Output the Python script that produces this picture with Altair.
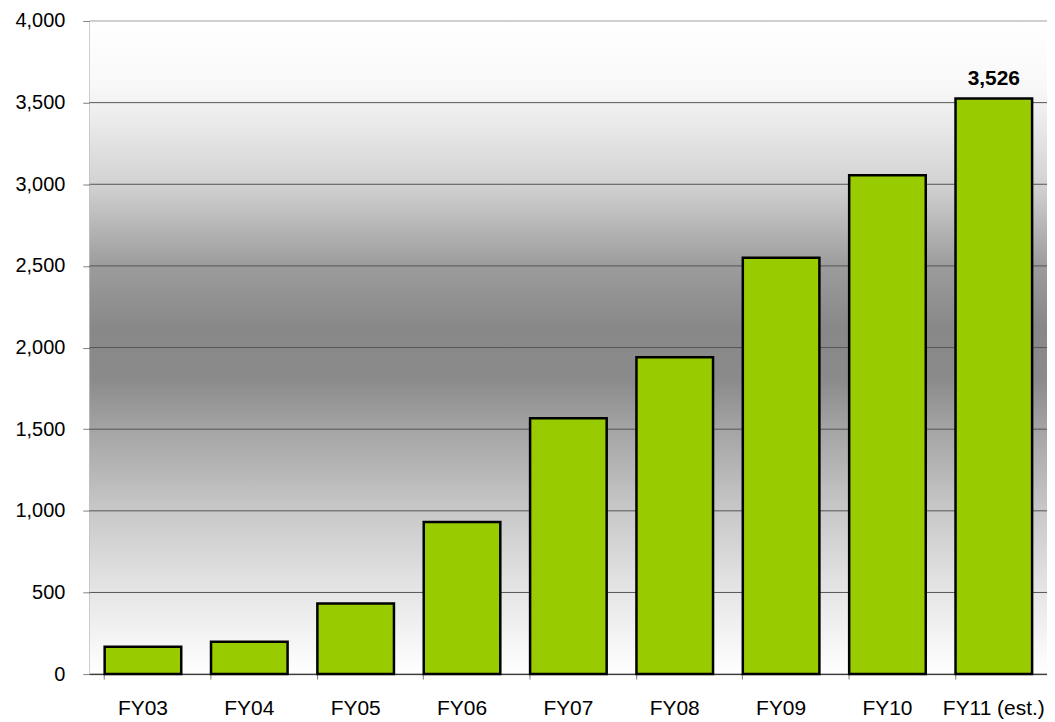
import altair as alt
import pandas as pd

categories = ["FY03", "FY04", "FY05", "FY06", "FY07", "FY08", "FY09", "FY10", "FY11 (est.)"]
values = [167, 198, 433, 932, 1567, 1940, 2550, 3055, 3526]
y_ticks = [0, 500, 1000, 1500, 2000, 2500, 3000, 3500, 4000]

W, H = 960, 655
FONT = "Liberation Sans"
FS = 21

df = pd.DataFrame({"cat": categories, "val": values})
grid_df = pd.DataFrame({"v": y_ticks})
bg_df = pd.DataFrame({"a": [0]})

x_enc = alt.X("cat:N", sort=categories, title=None,
              scale=alt.Scale(paddingInner=0.28, paddingOuter=0.14),
              axis=alt.Axis(labelAngle=0, labelFontSize=FS, labelFont=FONT, labelColor="#000000",
                            domainColor="#000000", domainWidth=1, tickColor="#808080", tickSize=5,
                            bandPosition=0, labelPadding=19, grid=False))
y_scale = alt.Scale(domain=[0, 4000], nice=False)

gradient = alt.LinearGradient(
    gradient="linear", x1=0, x2=0, y1=0, y2=1,
    stops=[
        alt.GradientStop(color="#ffffff", offset=0),
        alt.GradientStop(color="#f8f8f8", offset=0.1),
        alt.GradientStop(color="#d2d2d2", offset=0.25),
        alt.GradientStop(color="#9c9c9c", offset=0.375),
        alt.GradientStop(color="#888888", offset=0.47),
        alt.GradientStop(color="#8b8b8b", offset=0.55),
        alt.GradientStop(color="#a4a4a4", offset=0.625),
        alt.GradientStop(color="#c8c8c8", offset=0.75),
        alt.GradientStop(color="#e6e6e6", offset=0.875),
        alt.GradientStop(color="#ffffff", offset=1),
    ])

bg = alt.Chart(bg_df).mark_rect(fill=gradient, strokeWidth=0).encode(
    x=alt.value(0), x2=alt.value(W), y=alt.value(0), y2=alt.value(H))

grid = alt.Chart(grid_df).mark_rule(strokeWidth=1).encode(
    y=alt.Y("v:Q", scale=y_scale, title=None),
    x=alt.value(0), x2=alt.value(W),
    color=alt.condition("datum.v == 4000", alt.value("#a0a0a0"), alt.value("#555555")))

bars = alt.Chart(df).mark_bar(color="#99cc00", stroke="#000000", strokeWidth=2.5).encode(
    x=x_enc,
    y=alt.Y("val:Q", scale=y_scale, title=None,
            axis=alt.Axis(values=y_ticks, format=",.0f", labelFontSize=20, labelFont=FONT,
                          labelColor="#000000", domainColor="#000000", tickColor="#808080",
                          tickSize=7, labelPadding=18, grid=False)))

label = alt.Chart(df).transform_filter("datum.cat == 'FY11 (est.)'").mark_text(
    fontWeight="bold", fontSize=FS, font=FONT, color="#000000", baseline="alphabetic", dy=-13
).encode(x=alt.X("cat:N", sort=categories), y=alt.Y("val:Q", scale=y_scale),
         text=alt.Text("val:Q", format=",.0f"))

chart = alt.layer(bg, grid, bars, label).properties(
    width=W, height=H,
    autosize=alt.AutoSizeParams(type="none"),
    padding={"left": 82, "top": 12, "right": 0, "bottom": 45},
).configure_view(stroke=None).configure_axis(labelFont=FONT)

chart.save("out.html", embed_options={"renderer": "svg", "actions": False})
